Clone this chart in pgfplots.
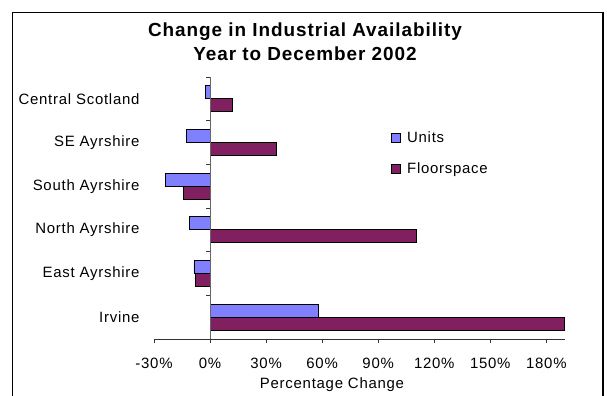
\documentclass[border=0pt]{standalone}
\usepackage{pgfplots}
\pgfplotsset{compat=1.18}
\usepackage{fontspec}
\setmainfont{Liberation Sans}[LetterSpace=5]
\definecolor{unitsc}{HTML}{8080FF}
\definecolor{floorc}{HTML}{802060}
\newcommand{\lblfont}{\fontsize{15}{18}\selectfont}
\begin{document}
\begin{tikzpicture}[x=1bp,y=1bp]
\useasboundingbox (0,0) rectangle (607,395);
\draw[line width=1.6bp] (12.5,-10) -- (12.5,382.5) -- (603,382.5) -- (603,-10);
\node[font=\fontsize{19}{23}\selectfont\bfseries, anchor=base] at (305,359) {Change in Industrial Availability};
\node[font=\fontsize{19}{23}\selectfont\bfseries, anchor=base] at (305,334.5) {Year to December 2002};
\begin{axis}[
  at={(154bp,56bp)}, anchor=south west,
  scale only axis, width=411bp, height=262bp,
  xmin=-30, xmax=190, ymin=-0.5, ymax=5.5,
  xbar, bar width=13bp,
  axis lines*=left,
  y axis line style={draw=none},
  x axis line style={line width=0.8bp, black!80},
  xtick={-30,0,30,60,90,120,150,180},
  xticklabel={\pgfmathprintnumber{\tick}\%},
  /pgf/number format/assume math mode=true,
  tick align=outside,
  major tick length=4bp,
  x tick style={line width=0.8bp, black!80},
  ytick={0,1,2,3,4,5},
  yticklabels={Irvine,East Ayrshire,North Ayrshire,South Ayrshire,SE Ayrshire,Central Scotland},
  y tick style={draw=none},
  tick label style={font=\lblfont},
  yticklabel style={xshift=-7bp},
  xticklabel style={yshift=-12bp},
  legend style={font=\lblfont, draw=none, fill=none, inner sep=0pt,
    at={(0.577,0.80)}, anchor=north west, row sep=15bp,
    legend cell align=left,
    nodes={inner xsep=6bp}},
  legend image code/.code={\draw[#1,line width=0.8bp] (0bp,-4.5bp) rectangle (9bp,4.5bp);},
  clip=false,
]
\addplot[fill=unitsc, draw=black, line width=0.9bp, bar shift=6.5bp] coordinates {
  (57.9,0) (-8.6,1) (-11.1,2) (-23.9,3) (-12.5,4) (-2.5,5)
};
\addplot[fill=floorc, draw=black, line width=0.9bp, bar shift=-6.5bp] coordinates {
  (189.5,0) (-7.7,1) (110.5,2) (-14.4,3) (35.7,4) (11.9,5)
};
\legend{Units,Floorspace}
\draw[black!60, line width=0.8bp] (axis cs:0,-0.5) -- (axis cs:0,5.5);
\pgfplotsinvokeforeach{-0.5,0.5,1.5,2.5,3.5,4.5,5.5}{
  \draw[black!80, line width=0.8bp] (axis cs:0,#1) -- ([xshift=-4bp]axis cs:0,#1);
}
\end{axis}
\node[font=\lblfont, anchor=base] at (332,7) {Percentage Change};
\end{tikzpicture}
\end{document}
